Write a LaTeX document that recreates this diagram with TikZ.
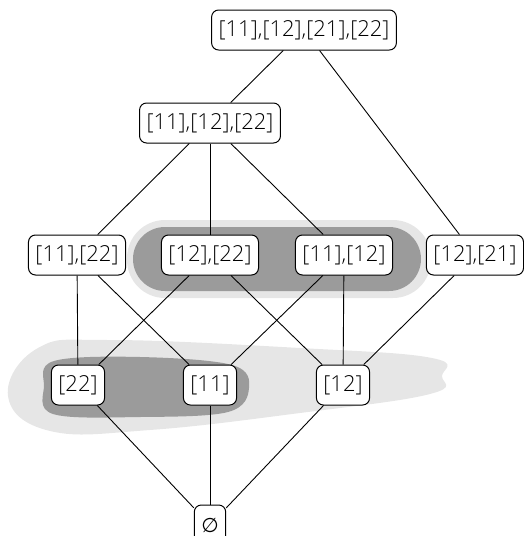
\documentclass[tikz,border=0pt]{standalone}
\usepackage{fontspec}
\setmainfont{Open Sans}[UprightFont={* Light}]
\newfontfamily\dejavu{DejaVu Sans}
\definecolor{lightblob}{HTML}{E6E6E6}
\definecolor{darkblob}{HTML}{9B9B9B}
\begin{document}
\begin{tikzpicture}[x=0.5pt,y=-0.5pt,
  setnode/.style={draw=black,line width=0.5pt,fill=white,rounded corners=3.5pt,
    minimum height=20pt,inner xsep=3.5pt,inner ysep=1pt,font=\fontsize{11}{13}\selectfont},
  edge/.style={line width=0.45pt}]
\useasboundingbox (0,0) rectangle (524,536);
\clip (0,0) rectangle (524,536);
% blobs
\fill[lightblob,rounded corners=19pt] (127,220) rectangle (431,298);
\fill[darkblob,rounded corners=16pt] (133,227) rectangle (421,291);
\fill[lightblob] plot[smooth cycle,tension=0.7] coordinates {(8,396) (38,348) (110,340) (300,348) (432,358) (442,376) (430,394) (300,413) (150,430) (50,431)};
\fill[darkblob] plot[smooth cycle,tension=0.6] coordinates {(44,386) (54,361) (140,357) (232,365) (249,388) (228,412) (140,417) (53,414)};
% nodes
\node[setnode] (top) at (304,30) {[11],[12],[21],[22]};
\node[setnode] (a) at (210,123) {[11],[12],[22]};
\node[setnode] (b1) at (77,255) {[11],[22]};
\node[setnode] (b2) at (210,255) {[12],[22]};
\node[setnode] (b3) at (344,255) {[11],[12]};
\node[setnode] (b4) at (475,255) {[12],[21]};
\node[setnode] (c1) at (78,385) {[22]};
\node[setnode] (c2) at (210,385) {[11]};
\node[setnode] (c3) at (343,385) {[12]};
\node[setnode] (e) at (210,525) {{\dejavu\fontsize{10}{12}\selectfont ∅}};
% edges
\draw[edge] (top) -- (a);
\draw[edge] (top) -- (b4);
\draw[edge] (a) -- (b1);
\draw[edge] (a) -- (b2);
\draw[edge] (a) -- (b3);
\draw[edge] (b1) -- (c1);
\draw[edge] (b1) -- (c2);
\draw[edge] (b2) -- (c1);
\draw[edge] (b2) -- (c3);
\draw[edge] (b3) -- (c2);
\draw[edge] (b3) -- (c3);
\draw[edge] (b4) -- (c3);
\draw[edge] (c1) -- (e);
\draw[edge] (c2) -- (e);
\draw[edge] (c3) -- (e);
\end{tikzpicture}
\end{document}
